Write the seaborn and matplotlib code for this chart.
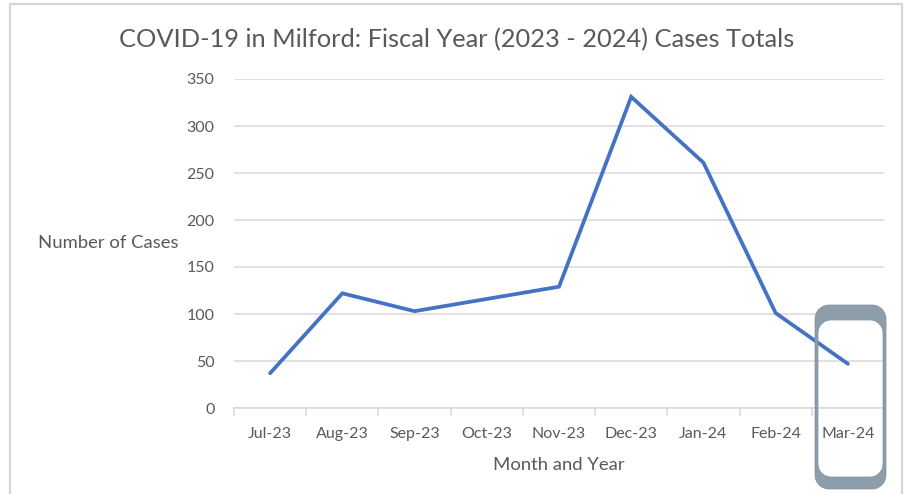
import matplotlib
matplotlib.use("Agg")
import matplotlib.pyplot as plt
from matplotlib.path import Path
from matplotlib.patches import PathPatch
import seaborn as sns
import numpy as np
import pandas as pd

# Monthly case totals, fiscal year 2023-2024
months = ["Jul-23", "Aug-23", "Sep-23", "Oct-23", "Nov-23",
          "Dec-23", "Jan-24", "Feb-24", "Mar-24"]
cases = [37, 122, 103, 116, 129, 331, 261, 101, 47]
y_ticks = [0, 50, 100, 150, 200, 250, 300, 350]

title = "COVID-19 in Milford: Fiscal Year (2023 - 2024) Cases Totals"
x_label = "Month and Year"
y_label = "Number of Cases"

sns.set_theme(style="white")
plt.rcParams["font.family"] = ["Lato", "DejaVu Sans"]

TEXT = "#595959"
GRID = "#d9d9d9"
BLUE = "#4472c4"

W, H = 910, 494
fig = plt.figure(figsize=(W / 100, H / 100), dpi=100)
fig.patch.set_facecolor("white")

left, right, top, bottom = 234, 884, 79, 408
ax = fig.add_axes([left / W, 1 - bottom / H, (right - left) / W, (bottom - top) / H])

df = pd.DataFrame({"month": months, "cases": cases})
sns.lineplot(data=df, x="month", y="cases", sort=False, ax=ax,
             color=BLUE, linewidth=2.7, solid_capstyle="round",
             solid_joinstyle="miter")

ax.set_xlim(-0.5, len(months) - 0.5)
ax.set_ylim(0, 350)
ax.set_yticks(y_ticks)
ax.yaxis.grid(True, color=GRID, linewidth=1.1)
ax.set_axisbelow(True)
for side in ("top", "right", "left"):
    ax.spines[side].set_visible(False)
ax.spines["bottom"].set_color(GRID)
ax.spines["bottom"].set_linewidth(1.1)

ax.set_xticks(range(len(months)))
ax.set_xticklabels(months)
ax.set_xticks(np.arange(-0.5, len(months), 1.0), minor=True)
ax.tick_params(axis="x", which="major", length=0, pad=14, labelsize=11.5,
               labelcolor=TEXT)
ax.tick_params(axis="x", which="minor", bottom=True, length=6, width=1.1,
               color=GRID, direction="out")
ax.tick_params(axis="y", length=0, pad=14, labelsize=11.5, labelcolor=TEXT)

ax.set_xlabel(x_label, fontsize=13.3, color=TEXT, labelpad=11)
ax.set_ylabel("")
fig.text(108 / W, 1 - 243 / H, y_label, ha="center", va="center",
         fontsize=13.3, color=TEXT)
fig.text(457 / W, 1 - 40 / H, title, ha="center", va="center",
         fontsize=18.3, color=TEXT)

# overlay in pixel coordinates for the frame and the highlight marker
ov = fig.add_axes([0, 0, 1, 1], zorder=5)
ov.set_xlim(0, W)
ov.set_ylim(H, 0)
ov.axis("off")
ov.patch.set_alpha(0)

frame_col = "#d6d6d6"
ov.plot([10, 10], [4, H], color=frame_col, lw=1.6)
ov.plot([10, 902], [4, 4], color=frame_col, lw=1.6)
ov.plot([902, 902], [4, H], color=frame_col, lw=1.6)


def rounded_rect(x0, y0, x1, y1, r, n=14):
    pts = []
    corners = [(x1 - r, y0 + r, -90, 0), (x1 - r, y1 - r, 0, 90),
               (x0 + r, y1 - r, 90, 180), (x0 + r, y0 + r, 180, 270)]
    for cx, cy, a0, a1 in corners:
        for a in np.linspace(np.radians(a0), np.radians(a1), n):
            pts.append((cx + r * np.cos(a), cy + r * np.sin(a)))
    pts.append(pts[0])
    return np.array(pts)


outer = rounded_rect(815, 305, 886, 489, 14)
inner = rounded_rect(818, 320, 883, 477, 13)[::-1]
verts = np.concatenate([outer, inner])
codes = ([Path.MOVETO] + [Path.LINETO] * (len(outer) - 2) + [Path.CLOSEPOLY]
         + [Path.MOVETO] + [Path.LINETO] * (len(inner) - 2) + [Path.CLOSEPOLY])
ov.add_patch(PathPatch(Path(verts, codes), facecolor="#8d9eaa",
                       edgecolor="#7f919e", lw=0.5))

fig.savefig("out.png", dpi=100)
